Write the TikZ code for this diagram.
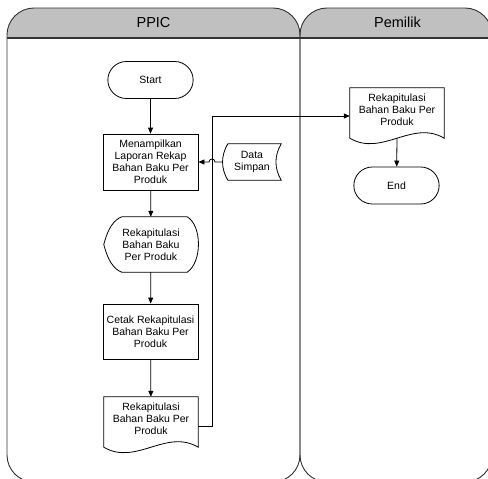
\documentclass[tikz,border=0pt]{standalone}
\usepackage{fontspec}
\setmainfont{Liberation Sans}
\usetikzlibrary{shapes.misc,arrows.meta,calc}
\definecolor{headgray}{RGB}{192,192,192}
% document symbol: straight top and sides, wavy bottom
\newcommand\docpath[1]{%
  \draw[outline] (#1.north west) -- (#1.north east) -- ($(#1.south east)+(0,6)$)
    .. controls +(-32,-19) and +(32,19) .. ($(#1.south west)+(0,6)$) -- cycle;}
\begin{document}
\begin{tikzpicture}[x=1pt,y=-1pt,
  lbl/.style={font=\fontsize{10.5}{12}\selectfont, align=center},
  proc/.style={lbl, draw, line width=0.8pt, minimum width=95pt, minimum height=56pt, inner sep=1pt},
  term/.style={lbl, draw, rounded rectangle, line width=0.8pt, minimum width=92pt, minimum height=37pt},
  plain/.style={lbl, minimum width=94pt, inner sep=0pt},
  outline/.style={draw, line width=0.8pt},
  flow/.style={line width=0.8pt, -{Triangle[length=6pt,width=5pt]}},
  lane/.style={draw=black!80, line width=0.9pt, rounded corners=27pt},
  title/.style={font=\fontsize{14.5}{16}\selectfont}]
\useasboundingbox (0,0) rectangle (488,479);
\clip (0,0) rectangle (488,479);

% swimlanes
\fill[headgray] (7,38) {[rounded corners=27pt] -- (7,8) -- (300,8)} -- (300,38) -- cycle;
\fill[headgray] (300,38) {[rounded corners=27pt] -- (300,8) -- (492,8)} -- (492,38) -- cycle;
\draw[lane] (7,8) rectangle (300,482);
\draw[lane] (300,8) rectangle (492,482);
\draw[black!80, line width=1.2pt] (7,38) -- (492,38);
\node[title] (hppic) at (153.5,22.5) {PPIC};
\node[title] (hpemilik) at (397.5,22.5) {Pemilik};

% PPIC lane
\node[term] (start) at (150.5,80) {Start};
\node[proc] (show) at (150.5,162) {Menampilkan\\Laporan Rekap\\Bahan Baku Per\\Produk};
\node[plain, minimum height=55pt] (disp) at (151,244.5) {Rekapitulasi\\Bahan Baku\\Per Produk};
\node[proc, minimum height=55pt] (print) at (150.5,331.5) {Cetak Rekapitulasi\\Bahan Baku Per\\Produk};
\node[plain, minimum height=44pt] (doca) at (151,419) {Rekapitulasi\\Bahan Baku Per\\Produk};
\node[plain, minimum width=58pt, minimum height=36pt] (store) at (252,162) {Data\\Simpan};

% Pemilik lane
\node[plain, minimum height=44pt] (docb) at (397,110) {Rekapitulasi\\Bahan Baku Per\\Produk};
\node[term] (end) at (396.5,185.5) {End};

% display symbol
\draw[outline] (disp.west) .. controls +(4,-16) and +(-8,3) .. ($(disp.north west)+(18,0)$)
  -- ($(disp.north east)+(-11,0)$) .. controls +(15,9) and +(15,-10) .. ($(disp.south east)+(-11,0)$)
  -- ($(disp.south west)+(18,0)$) .. controls +(-8,-3) and +(4,16) .. (disp.west) -- cycle;

% stored data symbol
\draw[outline] ($(store.north west)+(5,0)$) -- (store.north east)
  .. controls +(-7,12) and +(-7,-12) .. (store.south east)
  -- ($(store.south west)+(5,0)$) .. controls +(-7,-12) and +(-7,12) .. ($(store.north west)+(5,0)$) -- cycle;

\docpath{doca}
\docpath{docb}

% flow
\draw[flow] (start) -- (show);
\draw[flow] (show) -- (disp);
\draw[flow] (disp) -- (print);
\draw[flow] (print) -- (doca);
\draw[flow] ($(docb.south)+(0,6)$) -- (end);

\coordinate (jl) at (212,426);
\coordinate (jt) at (212,116);
\draw[flow] (jl -| doca.east) -- (jl) -- (jt) -- (jt -| docb.west);
\draw[flow] (store.west) -- ($(store.west -| jt)+(3,0)$)
  .. controls +(0,-4) and +(0,-4) .. ($(store.west -| jt)+(-3,0)$) -- (store.west -| show.east);
\end{tikzpicture}
\end{document}
